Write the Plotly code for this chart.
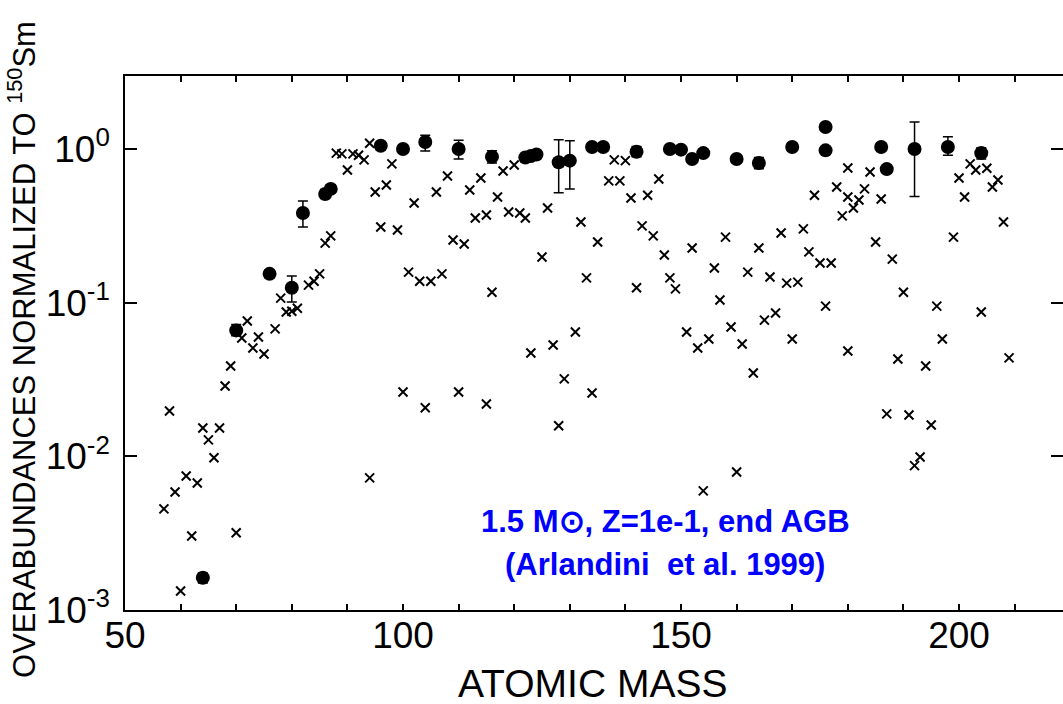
import plotly.graph_objects as go

# Measured (filled circles with error bars)
circ_mass = [64, 70, 76, 80, 82, 86, 87, 96, 100, 104, 110, 116, 122, 123, 124, 128, 130,
             134, 136, 142, 148, 150, 152, 154, 160, 164, 170, 176, 176, 186, 187, 192, 198, 204]
circ_val = [0.00162, 0.066, 0.154, 0.125, 0.383, 0.51, 0.55, 1.05, 1.0, 1.11, 1.0, 0.89, 0.88, 0.90,
            0.92, 0.82, 0.84, 1.03, 1.03, 0.96, 1.0, 0.99, 0.86, 0.94, 0.86, 0.81, 1.03, 1.39, 0.98,
            1.03, 0.74, 1.0, 1.03, 0.94]
circ_err_plus = [0.00012, 0.006, 0.01, 0.024, 0.076, 0.035, 0.035, 0.06, 0.06, 0.12, 0.14, 0.085, 0.05,
                 0.05, 0.05, 0.33, 0.29, 0.06, 0.06, 0.08, 0.04, 0.04, 0.04, 0.04, 0.04, 0.07, 0.04,
                 0.05, 0.04, 0.07, 0.04, 0.50, 0.17, 0.08]
circ_err_minus = [0.00012, 0.005, 0.009, 0.024, 0.072, 0.033, 0.033, 0.06, 0.06, 0.14, 0.14, 0.08, 0.05,
                  0.05, 0.05, 0.30, 0.29, 0.06, 0.06, 0.07, 0.04, 0.04, 0.04, 0.04, 0.04, 0.065, 0.04,
                  0.05, 0.04, 0.065, 0.04, 0.51, 0.12, 0.08]

# Model (crosses)
cross_mass = [57, 58, 59, 60, 61, 62, 63, 64, 65, 66, 67, 68, 69, 70, 71, 72, 73, 74, 75, 77, 78, 79,
              80, 81, 83, 84, 85, 86, 87, 88, 89, 90, 91, 92, 93, 94, 94, 95, 96, 97, 98, 99, 100,
              101, 102, 103, 104, 105, 106, 107, 108, 109, 110, 111, 112, 113, 114, 115, 115, 116,
              117, 118, 119, 120, 121, 122, 123, 125, 126, 127, 128, 129, 131, 132, 133, 134, 135,
              137, 138, 139, 140, 141, 142, 143, 144, 145, 146, 147, 148, 149, 151, 152, 153, 154,
              155, 156, 157, 158, 159, 160, 161, 162, 163, 164, 165, 166, 167, 168, 169, 170, 171,
              172, 173, 174, 175, 176, 177, 178, 179, 180, 180, 180, 181, 182, 183, 184, 185, 186,
              187, 188, 189, 190, 191, 192, 193, 194, 195, 196, 197, 199, 200, 201, 202, 203, 204,
              205, 206, 207, 208, 209]
cross_val = [0.00455, 0.0197, 0.00586, 0.00133, 0.00745, 0.00303, 0.00671, 0.0153, 0.0128, 0.0098,
             0.0153, 0.0287, 0.0387, 0.00318, 0.0589, 0.076, 0.0507, 0.0598, 0.0463, 0.0675, 0.107,
             0.087, 0.088, 0.092, 0.130, 0.138, 0.154, 0.244, 0.272, 0.94, 0.93, 0.73, 0.93, 0.91,
             0.85, 1.09, 0.00724, 0.525, 0.311, 0.583, 0.80, 0.297, 0.0262, 0.158, 0.445, 0.138,
             0.0207, 0.138, 0.525, 0.154, 0.667, 0.256, 0.0262, 0.241, 0.541, 0.356, 0.648, 0.372,
             0.0219, 0.117, 0.487, 0.72, 0.389, 0.787, 0.383, 0.356, 0.047, 0.198, 0.413, 0.053,
             0.0158, 0.0319, 0.0645, 0.335, 0.145, 0.0258, 0.248, 0.62, 0.85, 0.62, 0.84, 0.48,
             0.125, 0.316, 0.50, 0.272, 0.638, 0.204, 0.145, 0.123, 0.0645, 0.227, 0.0507, 0.00596,
             0.058, 0.168, 0.104, 0.267, 0.0695, 0.0079, 0.0538, 0.158, 0.0349, 0.227, 0.077, 0.147,
             0.0857, 0.284, 0.134, 0.058, 0.136, 0.302, 0.214, 0.50, 0.181, 0.095, 0.181, 0.566,
             0.367, 0.752, 0.487, 0.0485, 0.413, 0.466, 0.55, 0.708, 0.248, 0.473, 0.0189, 0.192,
             0.043, 0.117, 0.0186, 0.0087, 0.0099, 0.0387, 0.016, 0.095, 0.058, 0.267, 0.648, 0.487,
             0.80, 0.73, 0.087, 0.75, 0.566, 0.628, 0.335, 0.0437]

x_ticks = list(range(50, 221, 10))
x_ticktext = [str(v) if v % 50 == 0 else "" for v in x_ticks]
y_ticks = [0.001, 0.01, 0.1, 1]
y_ticktext = ["10<sup>-3</sup>", "10<sup>-2</sup>", "10<sup>-1</sup>", "10<sup>0</sup>"]

FONT = "Liberation Sans, Arial, Helvetica, sans-serif"

fig = go.Figure()
fig.add_trace(go.Scatter(
    x=cross_mass, y=cross_val, mode="markers",
    marker=dict(symbol="x-thin", size=9, color="black", line=dict(color="black", width=2)),
    showlegend=False, hoverinfo="skip"))
fig.add_trace(go.Scatter(
    x=circ_mass, y=circ_val, mode="markers",
    marker=dict(symbol="circle", size=14, color="black"),
    error_y=dict(type="data", symmetric=False, array=circ_err_plus, arrayminus=circ_err_minus,
                 color="black", thickness=1.5, width=5),
    showlegend=False, hoverinfo="skip"))
# right-side ticks only (no line)
fig.add_trace(go.Scatter(x=[], y=[], yaxis="y2", showlegend=False))

fig.update_layout(
    width=1063, height=704,
    margin=dict(l=125, r=0, t=76, b=94),
    paper_bgcolor="white", plot_bgcolor="white",
    font=dict(family=FONT, color="black"),
    xaxis=dict(range=[50, 218.7], tickvals=x_ticks, ticktext=x_ticktext,
               ticks="inside", ticklen=6, tickwidth=1.5, tickcolor="black",
               showline=True, linecolor="black", linewidth=1.5, mirror="ticks",
               ticklabelstandoff=-8,
               showgrid=False, zeroline=False, tickfont=dict(size=37, family=FONT)),
    yaxis=dict(type="log", range=[-3, 0.475], tickvals=y_ticks, ticktext=y_ticktext,
               ticks="inside", ticklen=12, tickwidth=1.5, tickcolor="black",
               showline=True, linecolor="black", linewidth=1.5, ticklabelstandoff=6,
               showgrid=False, zeroline=False, tickfont=dict(size=37, family=FONT)),
    yaxis2=dict(type="log", range=[-3, 0.475], tickvals=y_ticks, overlaying="y", side="right",
                ticks="inside", ticklen=12, tickwidth=1.5, tickcolor="black",
                showline=False, showticklabels=False, showgrid=False, zeroline=False),
    annotations=[
        dict(text="ATOMIC MASS", xref="paper", yref="paper", x=0.498, y=-0.137,
             xanchor="center", yanchor="middle", showarrow=False,
             font=dict(size=39, family=FONT, color="black")),
        dict(text="OVERABUNDANCES NORMALIZED TO <sup>150</sup>Sm", xref="paper", yref="paper",
             x=-0.1098, y=0.487, xanchor="center", yanchor="middle", textangle=-90,
             showarrow=False, font=dict(size=31, family=FONT, color="black")),
        dict(text="<b>1.5 M\u2299, Z=1e-1, end AGB</b>", xref="paper", yref="paper",
             x=(665 - 125) / 938, y=(610 - 521) / 534, xanchor="center", yanchor="middle",
             showarrow=False, font=dict(size=31, family=FONT, color="#0000FF")),
        dict(text="<b>(Arlandini&nbsp; et al. 1999)</b>", xref="paper", yref="paper",
             x=(665 - 125) / 938, y=(610 - 564) / 534, xanchor="center", yanchor="middle",
             showarrow=False, font=dict(size=31, family=FONT, color="#0000FF")),
    ],
)

fig.write_html("out.html")
